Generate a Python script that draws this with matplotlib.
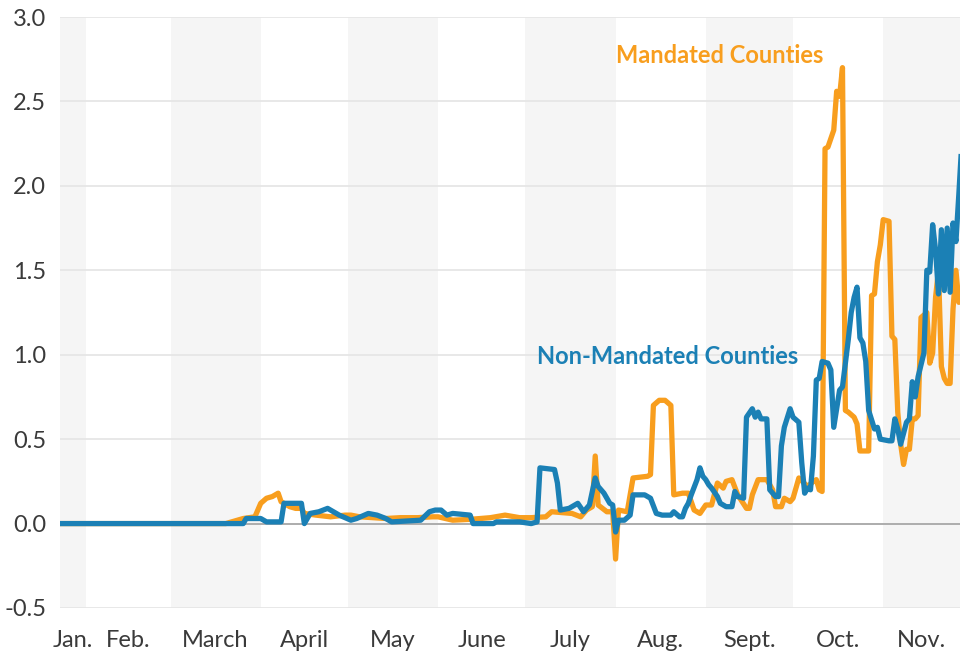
import numpy as np
import matplotlib
matplotlib.use("Agg")
import matplotlib.pyplot as plt
import matplotlib.dates as mdates

plt.rcParams['font.family'] = ['Lato', 'DejaVu Sans']

data_start = np.datetime64('2020-01-22')
axis_start = np.datetime64('2020-01-23')
axis_days = 309.4

# Mandated counties: (days since Jan 22, value)
mand_days = [0, 58, 64, 68, 70, 72, 74, 76, 77, 80, 82, 84, 85, 89, 94, 99, 101, 104, 113, 118,
             124, 129, 131, 136, 142, 149, 154, 159, 163, 168, 170, 177, 180, 182, 184, 185, 186,
             189, 191, 192, 193, 196, 198, 203, 204, 205, 207, 209, 211, 212, 215, 217, 219, 221,
             223, 225, 227, 229, 230, 232, 234, 237, 238, 239, 241, 244, 246, 247, 249, 250, 252,
             253, 255, 258, 260, 261, 262, 263, 264, 265, 266, 267, 268, 269, 270, 271, 272, 274,
             275, 276, 279, 280, 281, 282, 283, 284, 286, 287, 288, 289, 290, 291, 292, 293, 294,
             295, 296, 297, 299, 300, 301, 302, 303, 304, 305, 306, 307, 308, 309, 310, 311]
mand_vals = [0.0, 0.0, 0.03, 0.04, 0.12, 0.15, 0.16, 0.18, 0.13, 0.10, 0.09, 0.09, 0.06, 0.05,
             0.04, 0.05, 0.05, 0.04, 0.03, 0.035, 0.035, 0.04, 0.04, 0.02, 0.025, 0.035, 0.05,
             0.035, 0.035, 0.04, 0.07, 0.06, 0.04, 0.08, 0.10, 0.40, 0.11, 0.07, 0.07, -0.21, 0.08,
             0.07, 0.27, 0.28, 0.29, 0.70, 0.73, 0.73, 0.70, 0.17, 0.18, 0.18, 0.08, 0.06, 0.11,
             0.11, 0.24, 0.21, 0.25, 0.26, 0.17, 0.09, 0.09, 0.17, 0.26, 0.26, 0.20, 0.10, 0.10,
             0.15, 0.13, 0.15, 0.27, 0.22, 0.25, 0.26, 0.20, 0.19, 2.22, 2.23, 2.28, 2.33, 2.56,
             2.53, 2.70, 0.67, 0.66, 0.63, 0.59, 0.43, 0.43, 1.35, 1.36, 1.55, 1.65, 1.80, 1.79,
             1.11, 1.09, 0.66, 0.47, 0.35, 0.44, 0.44, 0.62, 0.62, 0.64, 1.22, 1.25, 0.95, 1.01,
             1.34, 1.50, 0.93, 0.86, 0.83, 0.83, 1.27, 1.50, 1.31, 1.40]

# Non-mandated counties: (days since Jan 22, value)
non_days = [0, 64, 65, 70, 72, 77, 78, 80, 84, 85, 87, 90, 93, 95, 97, 101, 103, 107, 110, 113,
            115, 120, 125, 128, 130, 132, 134, 136, 142, 143, 150, 151, 159, 163, 165, 166, 171,
            172, 173, 176, 178, 179, 181, 183, 185, 186, 188, 190, 191, 192, 193, 195, 197, 198,
            202, 204, 206, 208, 211, 212, 214, 215, 216, 217, 218, 220, 221, 222, 223, 224, 225,
            227, 228, 230, 232, 233, 234, 236, 237, 239, 240, 241, 242, 244, 245, 247, 248, 249,
            250, 252, 253, 255, 256, 257, 258, 259, 260, 261, 262, 263, 265, 266, 267, 269, 270,
            272, 273, 274, 275, 276, 277, 278, 279, 281, 282, 283, 286, 287, 288, 289, 290, 292,
            293, 294, 295, 296, 298, 299, 300, 301, 302, 303, 304, 305, 306, 307, 308, 309, 310,
            311]
non_vals = [0.0, 0.0, 0.03, 0.03, 0.01, 0.01, 0.12, 0.12, 0.12, 0.0, 0.06, 0.07, 0.09, 0.07,
            0.05, 0.02, 0.03, 0.06, 0.05, 0.03, 0.01, 0.015, 0.02, 0.07, 0.08, 0.08, 0.05, 0.06,
            0.05, 0.0, 0.0, 0.01, 0.01, 0.0, 0.01, 0.33, 0.32, 0.24, 0.08, 0.09, 0.11, 0.12, 0.07,
            0.11, 0.27, 0.22, 0.18, 0.12, 0.11, -0.05, 0.02, 0.02, 0.05, 0.17, 0.17, 0.15, 0.06,
            0.05, 0.05, 0.07, 0.04, 0.04, 0.09, 0.12, 0.17, 0.26, 0.33, 0.28, 0.26, 0.23, 0.21,
            0.16, 0.12, 0.10, 0.10, 0.19, 0.16, 0.15, 0.63, 0.68, 0.63, 0.66, 0.62, 0.62, 0.20,
            0.16, 0.16, 0.46, 0.57, 0.68, 0.63, 0.60, 0.36, 0.18, 0.21, 0.20, 0.40, 0.85, 0.86,
            0.96, 0.95, 0.91, 0.57, 0.79, 0.81, 1.09, 1.25, 1.34, 1.40, 1.10, 1.07, 0.96, 0.67,
            0.56, 0.57, 0.50, 0.49, 0.49, 0.62, 0.56, 0.47, 0.60, 0.62, 0.84, 0.75, 0.87, 1.01,
            1.50, 1.49, 1.77, 1.62, 1.36, 1.74, 1.38, 1.75, 1.37, 1.78, 1.67, 1.95, 2.25]

months = ['Jan.', 'Feb.', 'March', 'April', 'May', 'June', 'July', 'Aug.', 'Sept.', 'Oct.', 'Nov.']
month_starts = ['2020-01-23', '2020-02-01', '2020-03-01', '2020-04-01', '2020-05-01', '2020-06-01',
                '2020-07-01', '2020-08-01', '2020-09-01', '2020-10-01', '2020-11-01', '2020-11-28']
yticks = [-0.5, 0.0, 0.5, 1.0, 1.5, 2.0, 2.5, 3.0]

ORANGE = '#F89E1E'
BLUE = '#1B80B5'

fig = plt.figure(figsize=(9.6, 6.52), dpi=100)
ax = fig.add_axes([60 / 960, 44 / 652, 900 / 960, 591 / 652])

ms = np.array(month_starts, dtype='datetime64[D]')
x0 = mdates.date2num(axis_start)
x1 = x0 + axis_days
edges = [mdates.date2num(m) for m in ms]
edges[-1] = x1
for i in range(len(months)):
    if i % 2 == 0:
        ax.axvspan(edges[i], edges[i + 1], color='#F5F5F5', lw=0, zorder=0)

for y in yticks:
    ax.axhline(y, color='#E6E6E6', lw=1.3, zorder=1)
ax.axhline(0, color='#A8A8A8', lw=1.3, zorder=1.5)

md = data_start + np.array(mand_days).astype('timedelta64[D]')
nd = data_start + np.array(non_days).astype('timedelta64[D]')
ax.plot(mdates.date2num(md), mand_vals, color=ORANGE, lw=3.8, zorder=3, solid_joinstyle='round')
ax.plot(mdates.date2num(nd), non_vals, color=BLUE, lw=3.8, zorder=4, solid_joinstyle='round')

ax.set_xlim(x0, x1)
ax.set_ylim(-0.5, 3.0)

centers = [(edges[i] + edges[i + 1]) / 2 for i in range(len(months))]
ax.set_xticks(centers)
ax.set_xticklabels(months)
ax.set_yticks(yticks)
ax.set_yticklabels([f'{y:.1f}' for y in yticks])
ax.tick_params(axis='both', length=0, labelsize=17, labelcolor='#3A3A3A')
ax.tick_params(axis='x', pad=16)
ax.tick_params(axis='y', pad=10)
for s in ax.spines.values():
    s.set_visible(False)

ax.text(mdates.date2num(np.datetime64('2020-08-01')), 2.77, 'Mandated Counties', color=ORANGE,
        fontsize=17, fontweight='bold', ha='left', va='center', zorder=5)
ax.text(mdates.date2num(np.datetime64('2020-07-05')), 0.99, 'Non-Mandated Counties', color=BLUE,
        fontsize=17, fontweight='bold', ha='left', va='center', zorder=5)

fig.savefig('out.png', dpi=100)
